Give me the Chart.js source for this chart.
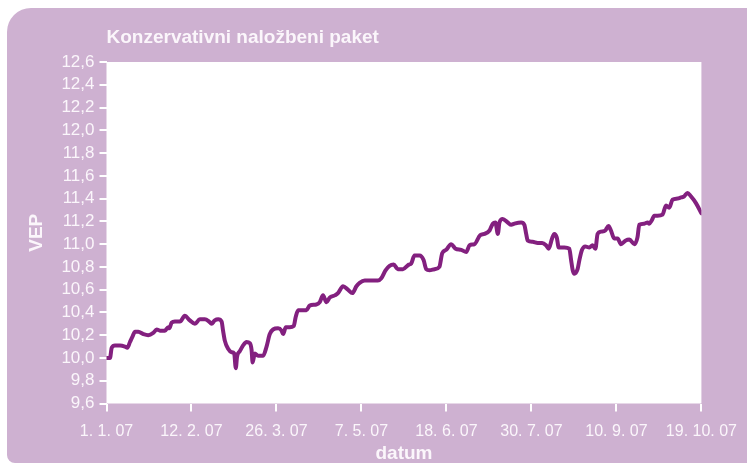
<!DOCTYPE html>
<html>
<head>
<meta charset="utf-8">
<script src="https://cdn.jsdelivr.net/npm/chart.js@4/dist/chart.umd.min.js"></script>
<style>
  html, body { margin: 0; padding: 0; background: #ffffff; }
  #wrap { position: relative; width: 747px; height: 465px; overflow: hidden; }
  #panel {
    position: absolute; left: 7px; top: 8px; width: 780px; height: 455px;
    background: #ceb1d1; border-radius: 24px 24px 8px 8px;
  }
  #chartCanvas { position: absolute; left: 0; top: 0; }
</style>
</head>
<body>
<div id="wrap">
  <div id="panel"></div>
  <canvas id="chartCanvas" width="747" height="465"></canvas>
</div>
<script>
const chartTitle = "Konzervativni naložbeni paket";
const tickLabels = [
    "1. 1. 07", "12. 2. 07", "26. 3. 07", "7. 5. 07",
    "18. 6. 07", "30. 7. 07", "10. 9. 07", "19. 10. 07"
];
// position along the axis, in days after 1. 1. 07 (one tick every 42)
const dayOffsets = [
    0, 1.7, 2.6, 4.2, 6.7, 9.1, 10.3, 11.6, 12.9, 14.1, 15.7, 18.2, 20.6, 23.1, 24.8, 26.4,
    28.9, 30.5, 31.0, 32.2, 33.8, 36.3, 38.7, 41.2, 43.7, 46.1, 48.6, 50.7, 51.9, 53.5, 55.2,
    56.9, 57.6, 58.5, 60.1, 61.8, 63.1, 63.9, 64.5, 65.9, 67.5, 69.2, 70.8, 71.7, 72.2, 73.3,
    74.9, 77.4, 79.1, 80.7, 82.3, 84.8, 86.5, 87.3, 88.6, 90.6, 92.5, 93.5, 94.7, 98.8, 100.4,
    103.7, 105.4, 107.0, 108.7, 110.3, 112.8, 114.4, 116.9, 119.3, 121.5, 123.5, 125.1, 127.6,
    130.0, 134.1, 135.8, 137.9, 139.9, 141.9, 144.0, 146.5, 149.4, 150.6, 152.2, 154.7, 156.7,
    158.0, 159.6, 162.1, 164.5, 165.9, 167.9, 170.3, 172.5, 175.3, 177.8, 179.4, 181.9, 184.7,
    186.8, 189.3, 190.9, 192.2, 193.4, 194.2, 195.8, 198.3, 200.0, 201.6, 204.9, 206.5, 207.4,
    208.2, 210.6, 213.1, 215.3, 217.2, 218.5, 220.2, 221.3, 222.5, 223.5, 226.3, 228.7, 229.6,
    230.4, 231.2, 232.8, 233.7, 235.0, 236.6, 238.6, 240.2, 241.6, 242.7, 244.4, 246.5, 248.1,
    249.3, 250.9, 252.6, 254.2, 256.4, 258.4, 260.9, 262.4, 263.3, 265.8, 267.4, 268.2, 269.5,
    270.7, 272.3, 274.8, 276.5, 278.1, 279.7, 282.2, 283.9, 285.5, 287.1, 288.8, 291.3, 294
];
const vepValues = [
    10.00, 10.00, 10.09, 10.11, 10.11, 10.10, 10.09, 10.14, 10.19, 10.23, 10.23, 10.21, 10.20, 10.22, 10.25, 10.24,
    10.24, 10.27, 10.26, 10.31, 10.32, 10.32, 10.37, 10.33, 10.30, 10.34, 10.34, 10.32, 10.30, 10.33, 10.34,
    10.32, 10.24, 10.15, 10.08, 10.05, 10.04, 9.91, 10.01, 10.06, 10.11, 10.14, 10.13, 10.07, 9.96, 10.04,
    10.02, 10.02, 10.10, 10.21, 10.25, 10.26, 10.24, 10.21, 10.27, 10.27, 10.28, 10.36, 10.42, 10.42, 10.46,
    10.47, 10.49, 10.55, 10.49, 10.53, 10.55, 10.57, 10.63, 10.60, 10.57, 10.63, 10.66, 10.68,
    10.68, 10.68, 10.70, 10.77, 10.81, 10.82, 10.78, 10.78, 10.82, 10.83, 10.90, 10.90, 10.86,
    10.78, 10.77, 10.78, 10.80, 10.92, 10.95, 11.00, 10.96, 10.95, 10.93, 10.99, 11.00, 11.08,
    11.09, 11.12, 11.18, 11.19, 11.09, 11.19, 11.22, 11.19, 11.17, 11.18, 11.19, 11.17, 11.09,
    11.03, 11.02, 11.01, 11.01, 10.99, 10.96, 11.05, 11.09, 11.06, 10.97, 10.97, 10.96, 10.86,
    10.77, 10.74, 10.78, 10.86, 10.95, 10.98, 10.97, 10.99, 10.96, 11.09, 11.11, 11.12, 11.16,
    11.12, 11.05, 11.05, 11.00, 11.03, 11.04, 11.00, 11.06, 11.17, 11.18, 11.19, 11.18, 11.21,
    11.25, 11.25, 11.26, 11.34, 11.32, 11.39, 11.40, 11.41, 11.42, 11.45, 11.42, 11.36, 11.27
];

const labelColor = "#fbf6fb";
const lineColor = "#83207f";

// white plot area + title at the left edge of the plot
const plotBackground = {
    id: "plotBackground",
    beforeDraw(chart) {
        const { ctx, chartArea } = chart;
        ctx.save();
        ctx.fillStyle = "#ffffff";
        ctx.fillRect(chartArea.left, chartArea.top, chartArea.right - chartArea.left, chartArea.bottom - chartArea.top);
        ctx.restore();
    },
    afterDraw(chart) {
        const { ctx, chartArea } = chart;
        ctx.save();
        ctx.fillStyle = labelColor;
        ctx.font = "bold 19px 'Liberation Sans', Arial, sans-serif";
        ctx.textAlign = "left";
        ctx.textBaseline = "alphabetic";
        ctx.fillText(chartTitle, chartArea.left, 43);
        ctx.restore();
    }
};

const points = dayOffsets.map((d, i) => ({ x: d, y: vepValues[i] }));

let myChart = new Chart(document.getElementById("chartCanvas"), {
    type: "line",
    data: {
        datasets: [{
            label: "VEP",
            data: points,
            borderColor: lineColor,
            borderWidth: 4,
            pointRadius: 0,
            cubicInterpolationMode: "monotone",
            borderJoinStyle: "round",
            borderCapStyle: "round"
        }]
    },
    plugins: [plotBackground],
    options: {
        responsive: false,
        animation: false,
        devicePixelRatio: 1,
        layout: { padding: { top: 62, right: 44.5, left: 0, bottom: 0 } },
        plugins: { legend: { display: false }, tooltip: { enabled: false } },
        scales: {
            x: {
                type: "linear",
                min: 0,
                max: 294,
                afterFit: s => { s.height = 61.5; },
                afterBuildTicks: s => { s.ticks = tickLabels.map((_, i) => ({ value: i * 42 })); },
                ticks: {
                    color: labelColor,
                    font: { family: "'Liberation Sans', Arial, sans-serif", size: 16 },
                    padding: 10,
                    maxRotation: 0,
                    autoSkip: false,
                    callback: v => tickLabels[Math.round(v / 42)]
                },
                grid: { drawOnChartArea: false, color: "#ffffff", lineWidth: 2, tickLength: 8 },
                border: { display: false },
                title: {
                    display: true, text: "datum", color: labelColor,
                    font: { family: "'Liberation Sans', Arial, sans-serif", size: 19, weight: "bold" },
                    padding: { top: 0, bottom: 0 }
                }
            },
            y: {
                min: 9.6,
                max: 12.6,
                afterFit: s => { s.width = 106.5; },
                ticks: {
                    stepSize: 0.2,
                    autoSkip: false,
                    color: labelColor,
                    font: { family: "'Liberation Sans', Arial, sans-serif", size: 17 },
                    padding: 5,
                    callback: v => v.toFixed(1).replace(".", ",")
                },
                grid: { drawOnChartArea: false, color: "#ffffff", lineWidth: 2, tickLength: 7 },
                border: { display: false },
                title: {
                    display: true, text: "VEP", color: labelColor,
                    font: { family: "'Liberation Sans', Arial, sans-serif", size: 19, weight: "bold" },
                    padding: { top: 25, bottom: 0 }
                }
            }
        }
    }
});
</script>
</body>
</html>
